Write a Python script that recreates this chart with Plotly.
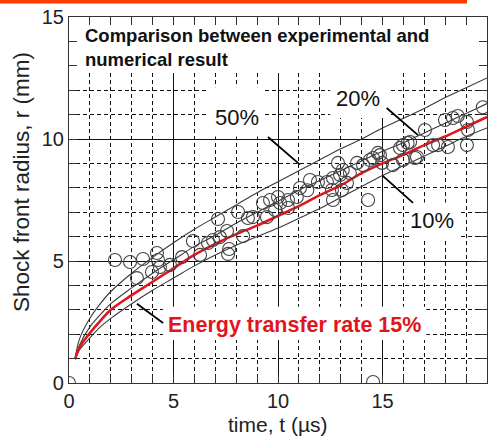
import plotly.graph_objects as go

# ---------------- data ----------------
t_model = [0.29, 0.5, 1, 1.5, 2, 3, 4, 5, 6, 7, 8, 9, 10, 11, 12, 13, 14, 15, 16, 17, 18, 19, 20]
r_50 = [0.98, 1.8, 2.65, 3.25, 3.75, 4.5, 5.15, 5.75, 6.3, 6.8, 7.3, 7.8, 8.25, 8.7, 9.15, 9.6, 10.0, 10.45, 10.85, 11.25, 11.7, 12.1, 12.5]
r_20 = [0.98, 1.55, 2.3, 2.8, 3.25, 3.9, 4.5, 5.05, 5.6, 6.05, 6.55, 7.0, 7.45, 7.9, 8.3, 8.7, 9.1, 9.5, 9.85, 10.25, 10.65, 11.05, 11.45]
r_15 = [0.98, 1.45, 2.05, 2.55, 3.0, 3.6, 4.15, 4.7, 5.25, 5.7, 6.1, 6.45, 6.85, 7.25, 7.7, 8.1, 8.6, 9.0, 9.35, 9.75, 10.1, 10.5, 10.9]
r_10 = [0.98, 1.35, 1.85, 2.3, 2.65, 3.25, 3.8, 4.3, 4.8, 5.25, 5.65, 6.0, 6.35, 6.75, 7.15, 7.6, 8.05, 8.5, 8.9, 9.3, 9.7, 10.1, 10.45]

t_exp = [0.0, 2.2, 2.92, 3.54, 4.21, 3.97, 3.25, 4.35, 4.83, 4.26, 5.41, 5.93, 6.27, 6.65, 6.89,
         7.22, 7.13, 7.56, 7.66, 7.61, 8.09, 8.33, 8.56, 8.8, 9.28, 9.47, 9.62, 9.86, 10.0, 10.1,
         10.48, 10.48, 10.9, 11.05, 11.4, 11.53, 11.91, 12.34, 12.63, 12.58, 12.63, 12.97, 13.06, 13.3,
         13.44, 12.87, 13.78, 14.31, 14.55, 14.78, 14.07, 14.4, 14.88, 14.98, 15.5, 15.84, 15.98,
         16.32, 16.56, 17.03, 17.42, 17.66, 18.13, 17.99, 18.37, 18.6, 19.04, 19.09, 19.04, 19.8,
         14.55, 16.2, 15.98, 16.65, 13.1]
r_exp = [0.0, 5.04, 4.96, 5.08, 5.33, 4.55, 4.3, 4.75, 4.84, 5.04, 5.16, 5.82, 5.25, 5.74, 5.86,
         5.98, 6.72, 6.23, 5.49, 5.29, 7.01, 6.02, 6.76, 6.8, 7.38, 6.8, 7.5, 7.09, 7.62, 7.38,
         7.17, 7.5, 7.62, 7.99, 7.9, 8.32, 8.24, 8.24, 8.4, 7.91, 7.5, 8.52, 7.91, 8.2,
         8.61, 9.02, 9.02, 7.5, 9.22, 9.43, 8.93, 9.14, 9.34, 9.02, 8.93, 9.63, 9.75,
         9.88, 9.22, 10.37, 9.75, 9.75, 9.67, 10.78, 10.86, 10.94, 10.7, 10.37, 9.75, 11.3,
         0.04, 9.84, 9.14, 9.26, 8.73]

x_ticks = [0, 5, 10, 15, 20]
y_ticks = [0, 5, 10, 15]
x_title = "time, t (µs)"
y_title = "Shock front radius, r (mm)"

title_text = "Comparison between experimental and<br>numerical result"
title_pos = (0.67, 13.75)
labels = [  # text, x, y
    ("50%", 8.04, 10.9),
    ("20%", 13.83, 11.64),
    ("10%", 17.37, 6.68),
]
energy_label = ("Energy transfer rate 15%", 10.8, 2.38)
pointer_lines = [  # x0, y0, x1, y1
    (9.52, 10.08, 11.05, 8.95),
    (15.2, 11.27, 16.7, 10.16),
    (15.0, 8.5, 16.46, 7.38),
    (3.25, 3.25, 4.5, 2.46),
]
masks = [  # x0, x1, y0, y1 (white boxes behind text)
    (0.0, 20.0, 12.7, 15.0),
    (6.65, 9.35, 10.1, 12.12),
    (12.5, 15.4, 10.86, 12.7),
    (16.3, 18.7, 5.9, 7.4),
    (4.5, 17.1, 1.76, 3.13),
]

FONT = "Liberation Sans, Arial, sans-serif"

fig = go.Figure()

for r in (r_50, r_20, r_10):
    fig.add_trace(go.Scatter(x=t_model, y=r, mode="lines", line=dict(color="#3a3a3a", width=1.1, shape="spline"),
                             showlegend=False, hoverinfo="skip"))
fig.add_trace(go.Scatter(x=t_model, y=r_15, mode="lines", line=dict(color="#e3141b", width=2.6, shape="spline"),
                         showlegend=False, hoverinfo="skip"))
fig.add_trace(go.Scatter(x=t_exp, y=r_exp, mode="markers",
                         marker=dict(symbol="circle-open", size=13, color="#444444", line=dict(width=1.1)),
                         showlegend=False, cliponaxis=True))

shapes = []
for x0, x1, y0, y1 in masks:
    shapes.append(dict(type="rect", xref="x", yref="y", x0=x0, x1=x1, y0=y0, y1=y1,
                       fillcolor="white", line=dict(width=0), layer="between"))
for x0, y0, x1, y1 in pointer_lines:
    shapes.append(dict(type="line", xref="x", yref="y", x0=x0, y0=y0, x1=x1, y1=y1,
                       line=dict(color="black", width=1.8)))
# orange strip at the very top of the image
W, H = 497, 437
ml, mr, mt, mb = 69, 10, 17, 54
pw, ph = W - ml - mr, H - mt - mb
shapes.append(dict(type="rect", xref="paper", yref="paper",
                   x0=-ml / pw, x1=(467 - ml) / pw, y0=1 + (mt - 3.5) / ph, y1=1 + mt / ph,
                   fillcolor="#ff3d00", line=dict(width=0), layer="above"))

annotations = [dict(x=title_pos[0], y=title_pos[1], xref="x", yref="y", text="<b>" + title_text + "</b>",
                    showarrow=False, xanchor="left", yanchor="middle", align="left",
                    font=dict(family=FONT, size=18.5, color="#111111"))]
for txt, x, y in labels:
    annotations.append(dict(x=x, y=y, xref="x", yref="y", text=txt, showarrow=False,
                            xanchor="center", yanchor="middle",
                            font=dict(family=FONT, size=22, color="#111111")))
annotations.append(dict(x=energy_label[1], y=energy_label[2], xref="x", yref="y",
                        text="<b>" + energy_label[0] + "</b>", showarrow=False,
                        xanchor="center", yanchor="middle",
                        font=dict(family=FONT, size=21.5, color="#e3141b")))
# axis titles
annotations.append(dict(x=(278 - ml) / pw, y=(H - mb - 425) / ph, xref="paper", yref="paper",
                        text=x_title, showarrow=False, xanchor="center", yanchor="middle",
                        font=dict(family=FONT, size=21, color="#222222")))
annotations.append(dict(x=(22 - ml) / pw, y=(H - mb - 182) / ph, xref="paper", yref="paper",
                        text=y_title, showarrow=False, xanchor="center", yanchor="middle", textangle=-90,
                        font=dict(family=FONT, size=22.5, color="#222222")))

axis_common = dict(showline=True, linecolor="#333333", linewidth=1.2, mirror="allticks",
                   ticks="inside", ticklen=8, tickcolor="#333333", automargin=False,
                   showgrid=True, gridcolor="#111111", gridwidth=1.2,
                   zeroline=False, tickfont=dict(family=FONT, size=20, color="#222222"),
                   minor=dict(dtick=1, showgrid=True, gridcolor="#111111", gridwidth=1,
                              griddash="4px,3px", ticks="inside", ticklen=8, tickcolor="#333333"))

fig.update_layout(
    width=W, height=H, autosize=False,
    margin=dict(l=ml, r=mr, t=mt, b=mb, pad=0),
    paper_bgcolor="white", plot_bgcolor="white",
    xaxis=dict(range=[0, 20], tickvals=x_ticks, ticktext=[str(v) for v in x_ticks], **axis_common),
    yaxis=dict(range=[0, 15], tickvals=y_ticks, ticktext=[str(v) for v in y_ticks], **axis_common),
    shapes=shapes, annotations=annotations, showlegend=False,
)

fig.write_html("out.html", config={"displayModeBar": False},
               post_script="document.body.style.margin='0';document.body.style.overflow='hidden';")
